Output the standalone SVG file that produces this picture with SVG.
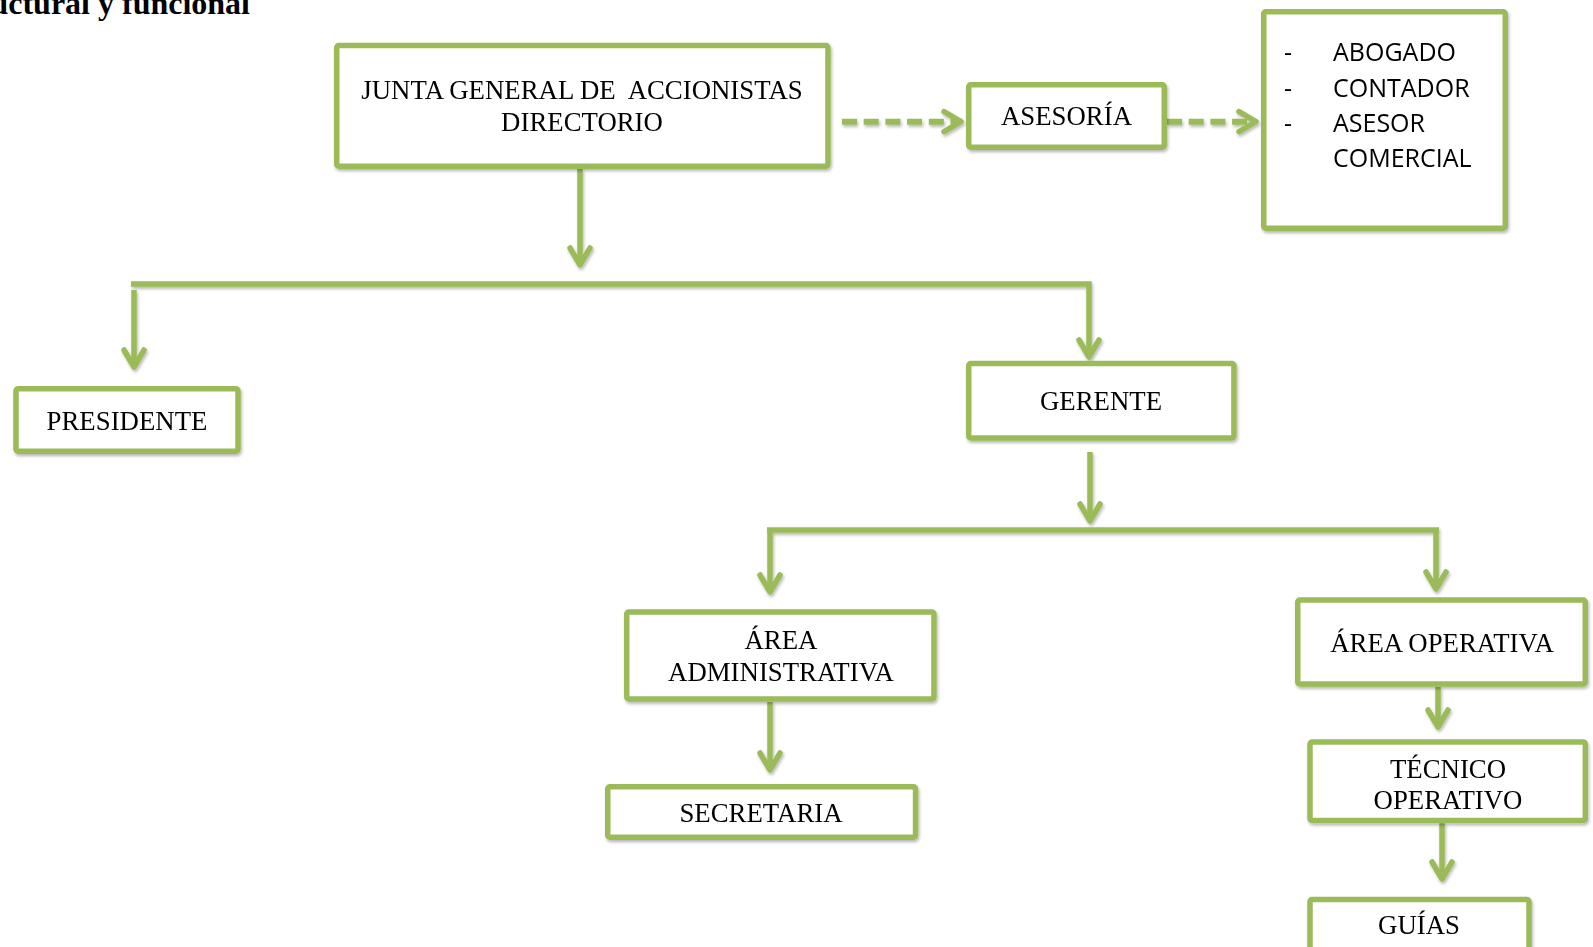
<svg xmlns="http://www.w3.org/2000/svg" width="1593" height="947" viewBox="0 0 1593 947">
  <style>
    .box { fill: #ffffff; stroke: #9bbb59; stroke-width: 5.5; stroke-linejoin: round; }
    .lbl { font-family: "Liberation Serif", "Times New Roman", serif; font-size: 26.8px; fill: #000000; text-anchor: middle; }
    .lst { font-family: "Open Sans", "Liberation Sans", sans-serif; font-size: 25px; fill: #000000; }
    .title { font-family: "Liberation Serif", "Times New Roman", serif; font-size: 32px; font-weight: bold; fill: #000000; text-anchor: end; }
    .ln { fill: none; stroke: #9bbb59; stroke-width: 5.5; stroke-linecap: butt; stroke-linejoin: miter; }
    .arr { marker-end: url(#chev); }
    .dash { stroke-dasharray: 15 6.7; stroke-width: 6; }
  </style>
  <defs>
    <filter id="soft" x="-5%" y="-5%" width="115%" height="130%">
      <feDropShadow dx="1.2" dy="2.2" stdDeviation="1.4" flood-color="#000000" flood-opacity="0.28"/>
    </filter>
    <marker id="chev" markerUnits="userSpaceOnUse" viewBox="-24 -16 30 32" refX="0" refY="0" markerWidth="30" markerHeight="32" orient="auto" overflow="visible">
      <path d="M-17,-10 L0,0 L-17,10" fill="none" stroke="#9bbb59" stroke-width="5.5" stroke-linecap="round" stroke-linejoin="round"/>
    </marker>
  </defs>

  <rect width="1593" height="947" fill="#ffffff"/>

  <!-- heading, cut by the page edge -->
  <text class="title" x="250" y="14">uctural y funcional</text>

  <!-- connectors -->
  <g id="connectors" filter="url(#soft)">
    <path class="ln dash arr" d="M842,121.7 H961"/>
    <path class="ln dash arr" d="M1167,121.7 H1256"/>
    <path class="ln arr" d="M580,169 V265"/>
    <path class="ln arr" d="M131,284 H1089 V357"/>
    <path class="ln arr" d="M134,290 V367"/>
    <path class="ln arr" d="M1090,452 V521"/>
    <path class="ln" d="M767,530 H1439"/>
    <path class="ln arr" d="M770,530 V592"/>
    <path class="ln arr" d="M1436,530 V589"/>
    <path class="ln arr" d="M770,702 V770"/>
    <path class="ln arr" d="M1438,687 V727"/>
    <path class="ln arr" d="M1442,823 V879"/>
  </g>

  <g id="junta" filter="url(#soft)">
    <rect class="box" x="336.75" y="45.5" width="491.2" height="120.7" rx="2"/>
    <text class="lbl" x="582" y="99" xml:space="preserve">JUNTA GENERAL DE  ACCIONISTAS</text>
    <text class="lbl" x="582" y="130.5">DIRECTORIO</text>
  </g>

  <g id="asesoria" filter="url(#soft)">
    <rect class="box" x="968.75" y="84.75" width="195.5" height="62.5" rx="2"/>
    <text class="lbl" x="1066.5" y="125">ASESORÍA</text>
  </g>

  <g id="asesores" filter="url(#soft)">
    <rect class="box" x="1263.75" y="11.75" width="241.5" height="216.5" rx="2"/>
    <text class="lst" x="1284" y="61">-</text>
    <text class="lst" x="1333" y="61">ABOGADO</text>
    <text class="lst" x="1284" y="96.7">-</text>
    <text class="lst" x="1333" y="96.7">CONTADOR</text>
    <text class="lst" x="1284" y="131.7">-</text>
    <text class="lst" x="1333" y="131.7">ASESOR</text>
    <text class="lst" x="1333" y="166.7">COMERCIAL</text>
  </g>

  <g id="presidente" filter="url(#soft)">
    <rect class="box" x="16" y="388.75" width="222" height="62.5" rx="2"/>
    <text class="lbl" x="127" y="430">PRESIDENTE</text>
  </g>

  <g id="gerente" filter="url(#soft)">
    <rect class="box" x="968.75" y="363.5" width="265.2" height="74.5" rx="2"/>
    <text class="lbl" x="1101" y="410">GERENTE</text>
  </g>

  <g id="area-administrativa" filter="url(#soft)">
    <rect class="box" x="626.75" y="612" width="307.2" height="87" rx="2"/>
    <text class="lbl" x="781" y="649">ÁREA</text>
    <text class="lbl" x="781" y="681">ADMINISTRATIVA</text>
  </g>

  <g id="secretaria" filter="url(#soft)">
    <rect class="box" x="607.75" y="786.75" width="307.8" height="50.5" rx="2"/>
    <text class="lbl" x="761" y="821.7">SECRETARIA</text>
  </g>

  <g id="area-operativa" filter="url(#soft)">
    <rect class="box" x="1297.75" y="600" width="287.5" height="84" rx="2"/>
    <text class="lbl" x="1442" y="651.7">ÁREA OPERATIVA</text>
  </g>

  <g id="tecnico-operativo" filter="url(#soft)">
    <rect class="box" x="1310" y="742" width="275.3" height="78.5" rx="2"/>
    <text class="lbl" x="1448" y="778">TÉCNICO</text>
    <text class="lbl" x="1448" y="809">OPERATIVO</text>
  </g>

  <g id="guias" filter="url(#soft)">
    <rect class="box" x="1310" y="899.5" width="219" height="70" rx="2"/>
    <text class="lbl" x="1419" y="934">GUÍAS</text>
  </g>
</svg>
